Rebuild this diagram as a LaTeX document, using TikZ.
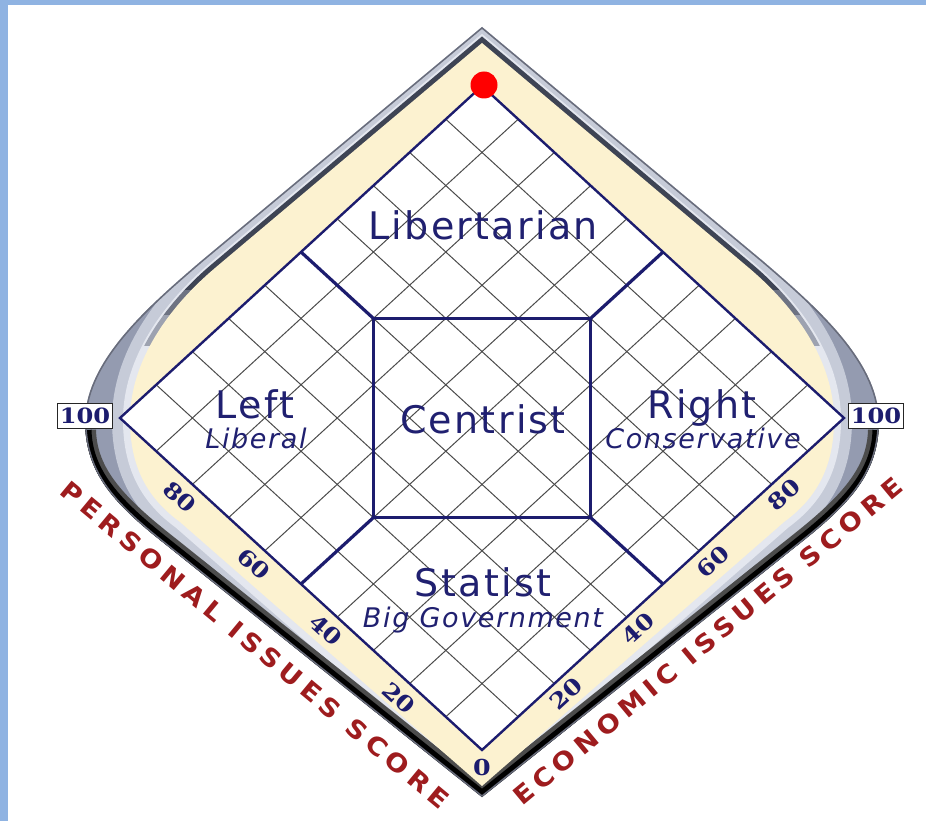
\documentclass[tikz,border=0pt]{standalone}
\usepackage{fontspec}
\setmainfont{DejaVu Sans}
\newfontfamily\regionfont[LetterSpace=6]{DejaVu Sans}
\newfontfamily\numfont[FakeStretch=1.15]{DejaVu Serif}
\newfontfamily\axisfont[LetterSpace=22,FakeStretch=1.1]{DejaVu Sans}
\usetikzlibrary{calc}
\definecolor{navy}{RGB}{28,28,110}
\definecolor{txtnavy}{RGB}{32,32,112}
\definecolor{cream}{RGB}{252,242,208}
\definecolor{rimmid}{RGB}{148,155,176}
\definecolor{rimlight}{RGB}{198,203,216}
\definecolor{rimhigh}{RGB}{228,231,239}
\definecolor{rimdark}{RGB}{62,68,84}
\definecolor{axisred}{RGB}{158,28,30}
\definecolor{edgeblue}{RGB}{143,179,226}
\definecolor{gridgray}{RGB}{75,75,75}
\def\outerpath{(482,27) -- (200,262) .. controls (150,305) and (86,360) .. (85,420) .. controls (85,470) and (110,500) .. (160,540) -- (482,797) -- (804,540) .. controls (854,500) and (879,470) .. (879,420) .. controls (878,360) and (814,305) .. (764,262) -- cycle}
\def\creampath{(482,43) -- (215,268) .. controls (170,306) and (130,360) .. (130,420) .. controls (130,470) and (150,500) .. (180,522) -- (482,786) -- (784,522) .. controls (814,500) and (834,470) .. (834,420) .. controls (834,360) and (794,306) .. (749,268) -- cycle}
\def\lowerpath{(85,430) .. controls (86,470) and (110,500) .. (160,540) -- (482,797) -- (804,540) .. controls (854,500) and (878,470) .. (879,430)}
\tikzset{
  gridln/.style={gridgray, line width=1pt},
  regionln/.style={navy, line width=3.2pt, line join=miter},
  diamondln/.style={navy, line width=2.4pt, line join=miter},
  regionlbl/.style={txtnavy, font=\regionfont\fontsize{38}{40}\selectfont, anchor=base, inner sep=0pt},
  sublbl/.style={txtnavy, font=\regionfont\itshape\fontsize{27}{29}\selectfont, anchor=base, inner sep=0pt},
  edgenum/.style={navy, font=\numfont\bfseries\fontsize{22}{23}\selectfont, inner sep=0pt},
  axislabel/.style={axisred, font=\axisfont\bfseries\fontsize{25}{27}\selectfont, inner sep=0pt},
  scorebox/.style={draw=black!85, line width=1.6pt, fill=white, minimum width=55pt, minimum height=25pt, inner sep=0pt, text=navy, font=\numfont\bfseries\fontsize{21}{22}\selectfont}
}
\begin{document}
\begin{tikzpicture}[x=1pt,y=-1pt]
\useasboundingbox (0,0) rectangle (926,821);
\fill[white] (0,0) rectangle (926,821);
\fill[edgeblue] (0,0) rectangle (926,5);
\fill[edgeblue] (0,0) rectangle (8,821);
% metallic frame
\fill[rimmid] \outerpath;
\begin{scope}
  \clip \outerpath;
  \draw[rimlight, line width=36pt] \creampath;
  \draw[rimhigh, line width=14pt] \creampath;
  \begin{scope}
    \clip (0,0) rectangle (926,290);
    \draw[rimdark, line width=10pt] \creampath;
  \end{scope}
  \begin{scope}
    \clip (0,290) rectangle (926,315);
    \draw[rimdark!65!rimlight, line width=10pt] \creampath;
  \end{scope}
  \begin{scope}
    \clip (0,315) rectangle (926,345);
    \draw[rimdark!30!rimlight, line width=10pt] \creampath;
  \end{scope}
  \draw[black!70, line width=22pt] \lowerpath;
  \draw[black, line width=13pt] \lowerpath;
  \draw[rimmid!70!black, line width=3pt] \outerpath;
\end{scope}
\fill[cream] \creampath;
% chart
\begin{scope}[shift={(482pt,-750pt)}, x={(-3.62pt,3.32pt)}, y={(3.62pt,3.32pt)}]
  \fill[white] (0,0) -- (100,0) -- (100,100) -- (0,100) -- cycle;
  \foreach \i in {10,20,...,90} {
    \draw[gridln] (\i,0) -- (\i,100);
    \draw[gridln] (0,\i) -- (100,\i);
  }
  \draw[regionln] (100,50) -- (80,50);
  \draw[regionln] (50,100) -- (50,80);
  \draw[regionln] (0,50) -- (20,50);
  \draw[regionln] (50,0) -- (50,20);
  \draw[regionln] (80,50) -- (50,80) -- (20,50) -- (50,20) -- cycle;
  \draw[diamondln] (0,0) -- (100,0) -- (100,100) -- (0,100) -- cycle;
\end{scope}
\fill[red] (484,85) circle[radius=13.5pt];
% region labels
\node[regionlbl] (lib) at (483,240) {Libertarian};
\node[regionlbl] (left) at (255,418) {Left};
\node[sublbl] (liberal) at (256,448) {Liberal};
\node[regionlbl] (cen) at (483,433) {Centrist};
\node[regionlbl] (right) at (702,418) {Right};
\node[sublbl] (cons) at (703,448) {Conservative};
\node[regionlbl] (stat) at (483,596) {Statist};
\node[sublbl] (bigg) at (483,627) {Big Government};
% score boxes
\node[scorebox] (lbox) at (85,416) {100};
\node[scorebox] (rbox) at (876,416) {100};
% edge numbers
\node[edgenum, rotate=-42.5] (p80) at (180,497) {80};
\node[edgenum, rotate=-42.5] (p60) at (254,564) {60};
\node[edgenum, rotate=-42.5] (p40) at (326,630) {40};
\node[edgenum, rotate=-42.5] (p20) at (399,698) {20};
\node[edgenum, rotate=42.5] (e80) at (784,495) {80};
\node[edgenum, rotate=42.5] (e60) at (713,562) {60};
\node[edgenum, rotate=42.5] (e40) at (638,629) {40};
\node[edgenum, rotate=42.5] (e20) at (566,694) {20};
\node[edgenum] (zero) at (482,767) {0};
% axis titles
\node[axislabel, rotate=-39.7] (pis) at (255,645) {PERSONAL ISSUES SCORE};
\node[axislabel, rotate=39.7] (eis) at (708,641) {ECONOMIC ISSUES SCORE};
\end{tikzpicture}
\end{document}
